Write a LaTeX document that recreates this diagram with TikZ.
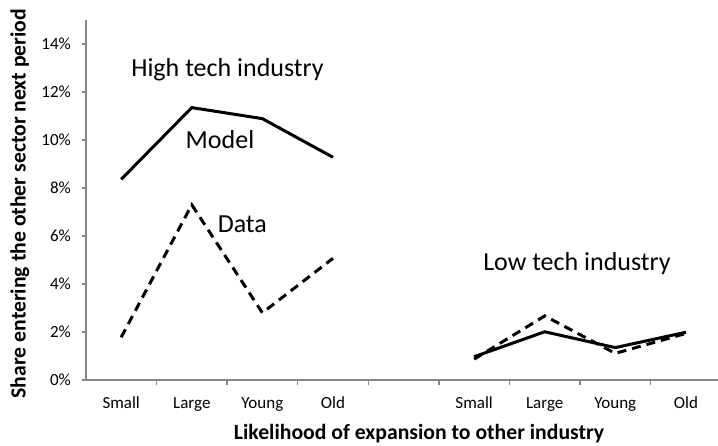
\documentclass[tikz,border=0pt]{standalone}
\usepackage{fontspec}
\setmainfont{Carlito}
\begin{document}
\begin{tikzpicture}[x=1pt,y=-1pt,
  axis/.style={draw=black!47,line width=1.3pt},
  model/.style={line width=3pt,line join=miter},
  data/.style={line width=3pt,dash pattern=on 9pt off 6pt},
  ticklabel/.style={font=\fontsize{17}{17}\selectfont,anchor=east,inner sep=0pt},
  catlabel/.style={font=\fontsize{17}{17}\selectfont,anchor=base,inner sep=0pt},
  biglabel/.style={font=\fontsize{26}{26}\selectfont,anchor=base,inner sep=0pt},
  title/.style={font=\fontsize{21.7}{21.7}\selectfont\bfseries,anchor=base,inner sep=0pt}]
\useasboundingbox (0,0) rectangle (718,445);

% axes
\draw[axis] (85.9,20) -- (85.9,380) -- (718,380);
\foreach \v in {0,2,...,14} {
  \draw[axis] (81.9,{380-24*\v}) -- (85.9,{380-24*\v});
  \node[ticklabel] (tick\v) at (71,{380-24*\v}) {\v\%};
}
\foreach \i in {1,...,8}
  \draw[axis] ({85.9+70.59*\i},380) -- ({85.9+70.59*\i},385);

% categories
\foreach \c [count=\i] in {Small,Large,Young,Old} {
  \node[catlabel] (hi\i) at ({85.9+70.59*(\i-0.5)},408.5) {\c};
  \node[catlabel] (lo\i) at ({85.9+70.59*(\i+4.5)},408.5) {\c};
}

\node[title] (xtitle) at (419,439) {Likelihood of expansion to other industry};
\node[title,rotate=90] (ytitle) at (25.5,203.5) {Share entering the other sector next period};

% series
\begin{scope}[shift={(85.9,380)},x=70.59pt,y=24pt]
\draw[model] plot coordinates {(0.5,8.36) (1.5,11.35) (2.5,10.89) (3.5,9.28)};
\draw[data] plot coordinates {(0.5,1.78) (1.5,7.3) (2.5,2.8) (3.5,5.07)};
\draw[model] plot coordinates {(5.5,0.97) (6.5,2.01) (7.5,1.35) (8.5,1.99)};
\draw[data] plot coordinates {(5.5,0.87) (6.5,2.67) (7.5,1.11) (8.5,1.94)};
\end{scope}

\node[biglabel] (high) at (227.5,76) {High tech industry};
\node[biglabel] (model) at (220,148.3) {Model};
\node[biglabel] (data) at (242.3,232.7) {Data};
\node[biglabel] (low) at (577,270.5) {Low tech industry};
\end{tikzpicture}
\end{document}
